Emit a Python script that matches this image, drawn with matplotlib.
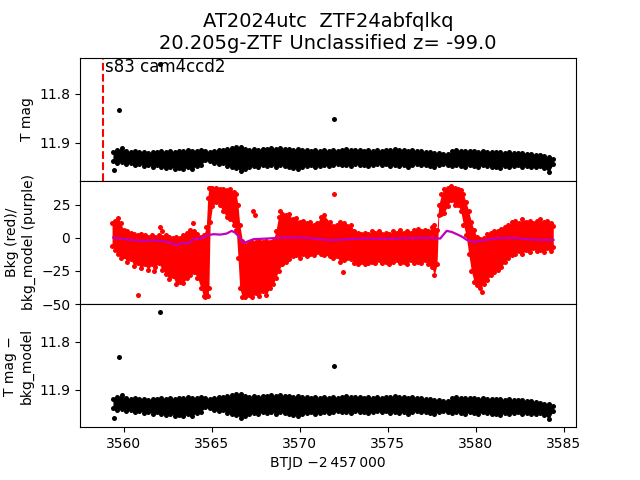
import matplotlib
matplotlib.use("Agg")
import matplotlib.pyplot as plt
import numpy as np

# TESS light curve, sector 83 cam4 ccd2
sector_start = 3558.81
band_t0, band_t1 = 3559.4, 3584.4

# upper / lower edge of the dense T mag band (0.25 d steps)
band_hi = [11.919, 11.914, 11.911, 11.917, 11.918, 11.917, 11.919, 11.918, 11.920, 11.919,
           11.919, 11.917, 11.919, 11.917, 11.918, 11.916, 11.917, 11.915, 11.917, 11.916,
           11.915, 11.917, 11.918, 11.916, 11.915, 11.914, 11.913, 11.911, 11.908, 11.909,
           11.913, 11.915, 11.913, 11.914, 11.912, 11.913, 11.911, 11.912, 11.911, 11.913,
           11.913, 11.914, 11.913, 11.915, 11.914, 11.916, 11.915, 11.917, 11.915, 11.916,
           11.915, 11.916, 11.914, 11.913, 11.915, 11.915, 11.914, 11.916, 11.915, 11.917,
           11.915, 11.916, 11.915, 11.915, 11.913, 11.914, 11.915, 11.916, 11.915, 11.916,
           11.917, 11.918, 11.919, 11.920, 11.921, 11.923, 11.922, 11.917, 11.915, 11.916,
           11.917, 11.916, 11.917, 11.918, 11.917, 11.919, 11.918, 11.919, 11.919, 11.920,
           11.919, 11.921, 11.920, 11.921, 11.922, 11.923, 11.924, 11.926, 11.928, 11.930,
           11.933]
band_lo = [11.938, 11.941, 11.939, 11.943, 11.942, 11.946, 11.943, 11.947, 11.945, 11.949,
           11.946, 11.950, 11.951, 11.949, 11.953, 11.951, 11.954, 11.950, 11.953, 11.947,
           11.945, 11.936, 11.938, 11.941, 11.943, 11.942, 11.947, 11.949, 11.951, 11.957,
           11.954, 11.950, 11.947, 11.949, 11.946, 11.947, 11.945, 11.949, 11.946, 11.947,
           11.949, 11.951, 11.953, 11.950, 11.947, 11.946, 11.949, 11.947, 11.945, 11.947,
           11.946, 11.943, 11.946, 11.945, 11.947, 11.943, 11.946, 11.945, 11.947, 11.946,
           11.943, 11.945, 11.944, 11.947, 11.945, 11.947, 11.946, 11.949, 11.945, 11.943,
           11.946, 11.945, 11.947, 11.949, 11.945, 11.943, 11.946, 11.947, 11.945, 11.947,
           11.949, 11.946, 11.947, 11.949, 11.946, 11.947, 11.950, 11.949, 11.951, 11.947,
           11.949, 11.947, 11.946, 11.949, 11.947, 11.950, 11.949, 11.947, 11.951, 11.960,
           11.943]

out_t = [3559.47, 3559.74, 3562.07, 3571.97]
tmag_out = [11.955, 11.833, 11.739, 11.851]
tmag_sub_out = [11.958, 11.832, 11.738, 11.850]

# background flux envelope
bkg_t = [3559.35, 3559.5, 3559.7, 3559.85, 3560.0, 3560.2, 3560.4, 3560.6, 3560.8, 3561.0,
         3561.2, 3561.4, 3561.6, 3561.8, 3562.0, 3562.2, 3562.4, 3562.6, 3562.8, 3563.0,
         3563.2, 3563.4, 3563.6, 3563.8, 3564.0, 3564.2, 3564.4, 3564.55, 3564.7, 3564.78,
         3564.85, 3564.92, 3565.05, 3565.25, 3565.45, 3565.65, 3565.85, 3566.05, 3566.25, 3566.4,
         3566.5, 3566.6, 3566.75, 3566.9, 3567.1, 3567.3, 3567.5, 3567.7, 3567.9, 3568.1,
         3568.3, 3568.5, 3568.65, 3568.8, 3569.0, 3569.2, 3569.4, 3569.6, 3569.8, 3570.0,
         3570.2, 3570.4, 3570.6, 3570.8, 3571.0, 3571.2, 3571.4, 3571.7, 3571.9, 3572.1,
         3572.3, 3572.5, 3572.7, 3572.9, 3573.1, 3573.3, 3573.5, 3573.7, 3573.9, 3574.1,
         3574.3, 3574.5, 3574.7, 3574.9, 3575.1, 3575.3, 3575.5, 3575.7, 3575.9, 3576.1,
         3576.3, 3576.5, 3576.7, 3576.9, 3577.1, 3577.3, 3577.5, 3577.65, 3577.8, 3577.9,
         3578.05, 3578.2, 3578.4, 3578.6, 3578.8, 3579.0, 3579.15, 3579.3, 3579.45, 3579.6,
         3579.75, 3579.9, 3580.05, 3580.25, 3580.45, 3580.65, 3580.85, 3581.05, 3581.25, 3581.45,
         3581.65, 3581.85, 3582.05, 3582.25, 3582.45, 3582.65, 3582.85, 3583.05, 3583.25, 3583.45,
         3583.65, 3583.85, 3584.05, 3584.25, 3584.4]
bkg_hi = [11, 13, 15, 11, 6, 5, 4, 3, 2, 3,
          2, 1, 2, 1, 2, 1, 2, 1, 0, 1,
          0, 2, 4, 6, 5, 3, 1, 2, 8, 30,
          38, 38, 38, 38, 37, 37, 36, 37, 35, 33,
          25, 10, -2, -5, -4, -3, -3, -2, -3, -2,
          -3, -2, 5, 16, 18, 17, 18, 14, 15, 12,
          13, 11, 12, 10, 11, 16, 17, 12, 9, 10,
          12, 11, 9, 10, 5, 4, 3, 4, 3, 5,
          4, 5, 3, 4, 3, 5, 4, 6, 4, 5,
          4, 6, 7, 5, 6, 5, 8, 10, 6, 25,
          33, 37, 38, 39, 38, 37, 36, 33, 27, 20,
          12, 6, 1, -1, 0, 3, 4, 5, 5, 7,
          8, 10, 12, 13, 11, 14, 12, 13, 11, 13,
          14, 12, 13, 11, 9]
bkg_lo = [-6, -9, -12, -15, -14, -18, -16, -21, -19, -23,
          -20, -24, -20, -22, -19, -24, -27, -31, -29, -35,
          -33, -34, -30, -28, -26, -30, -38, -44, -42, -44,
          -38, 12, 24, 27, 25, 20, 16, 14, 10, 6,
          -15, -38, -45, -45, -43, -45, -42, -44, -40, -43,
          -38, -35, -30, -25, -20, -18, -16, -14, -13, -15,
          -12, -14, -12, -13, -11, -12, -13, -14, -15, -14,
          -18, -17, -15, -16, -19, -20, -18, -20, -19, -18,
          -19, -17, -19, -18, -20, -18, -17, -19, -18, -20,
          -17, -19, -18, -19, -17, -20, -22, -28, -20, 17,
          18, 19, 24, 29, 25, 25, 20, 10, 2, -12,
          -25, -33, -36, -38, -35, -32, -28, -26, -24, -22,
          -18, -15, -13, -12, -10, -12, -9, -11, -8, -10,
          -9, -11, -8, -10, -7]
bkg_out_t = [3560.8, 3561.72, 3562.07, 3562.2, 3563.95, 3564.6, 3567.37, 3567.46,
             3568.88, 3571.95, 3572.45, 3580.35]
bkg_out = [-43, -25, 8, 5, 11, -45, 20, 17, 20, 33, -26, -41]

# background model
mod_t = [3559.42, 3559.8, 3560.56, 3561.14, 3561.71, 3562.28, 3562.65, 3563.03, 3563.3, 3563.7,
         3563.98, 3564.36, 3564.55, 3564.74, 3565.12, 3565.5, 3565.86, 3566.14, 3566.33, 3566.52,
         3566.8, 3566.99, 3567.37, 3568.13, 3569.07, 3570.02, 3570.78, 3571.16, 3571.73, 3572.7,
         3573.6, 3574.95, 3576.08, 3577.22, 3577.98, 3578.26, 3578.35, 3578.64, 3578.92, 3579.21,
         3579.49, 3579.87, 3580.25, 3580.82, 3581.38, 3582.14, 3582.9, 3583.66, 3584.41]
mod_v = [0.3, -0.5, -1.8, -2.3, -1.8, -2.5, -3.5, -5.6, -4, -4,
         -1, -0.5, 0.3, 2, 2.8, 2.5, 3.3, 5.3, 4, 1.5,
         -4, -3, -1, -0.5, 0.3, 0.3, -0.5, -1, -1.8, -1,
         -0.5, -0.8, -0.2, 0, -0.5, 4, 5.3, 4.5, 2.8, 1,
         -1.5, -3, -2.3, -1, -0.2, 0, -1, -1.5, -1.5]

band_t = np.linspace(band_t0, band_t1, len(band_hi))

fig, (ax1, ax2, ax3) = plt.subplots(3, 1, sharex=True, figsize=(6.4, 4.8), dpi=100)
fig.subplots_adjust(hspace=0)

ms = 3.6


def plot_band(ax, outliers):
    ax.fill_between(band_t, band_hi, band_lo, color="k", lw=0)
    ax.plot(band_t, band_hi, "o", color="k", ms=ms, mew=0)
    ax.plot(band_t, band_lo, "o", color="k", ms=ms, mew=0)
    ax.plot(out_t, outliers, "o", color="k", ms=ms, mew=0)


# T mag
plot_band(ax1, tmag_out)
ax1.axvline(sector_start, color="r", ls="--", lw=1.5)
ax1.text(sector_start + 0.12, 1.0, "s83 cam4ccd2", fontsize=12, va="top",
         transform=ax1.get_xaxis_transform())
ax1.set_ylim(11.9776, 11.7265)
ax1.set_yticks([11.8, 11.9])
ax1.set_ylabel("T mag")
ax1.set_title("AT2024utc  ZTF24abfqlkq\n20.205g-ZTF Unclassified z= -99.0", fontsize=14)

# background
ax2.fill_between(bkg_t, bkg_hi, bkg_lo, color="r", lw=0)
ax2.plot(bkg_t, bkg_hi, "o", color="r", ms=ms, mew=0)
ax2.plot(bkg_t, bkg_lo, "o", color="r", ms=ms, mew=0)
ax2.plot(bkg_out_t, bkg_out, "o", color="r", ms=ms, mew=0)
ax2.plot(mod_t, mod_v, color="m", lw=1.6, zorder=5)
ax2.set_ylim(-50, 43.2)
ax2.set_yticks([-50, -25, 0, 25])
ax2.set_ylabel("Bkg (red)/\nbkg_model (purple)")

# T mag - bkg model
plot_band(ax3, tmag_sub_out)
ax3.set_ylim(11.977, 11.722)
ax3.set_yticks([11.8, 11.9])
ax3.set_ylabel("T mag \u2212\nbkg_model")
ax3.set_xlabel("BTJD \u22122\u2009457\u2009000")

fig.savefig("out.png")
